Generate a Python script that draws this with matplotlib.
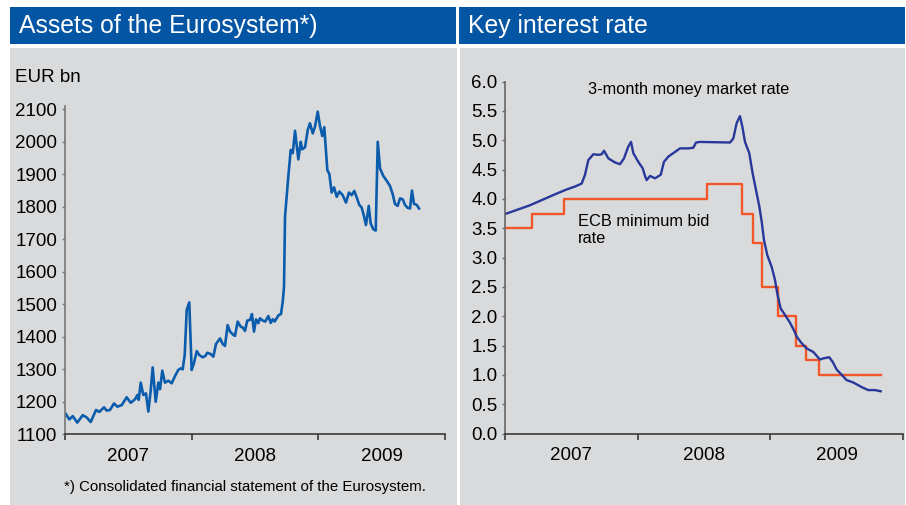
import matplotlib
matplotlib.use("Agg")
import matplotlib.pyplot as plt
from matplotlib.patches import Rectangle

plt.rcParams['font.family'] = ['Liberation Sans', 'DejaVu Sans']

# ---------------- data ----------------
# Assets of the Eurosystem (EUR bn), x as decimal years
assets_t = [2007.008, 2007.034, 2007.061, 2007.097, 2007.140, 2007.171, 2007.203, 2007.245,
            2007.271, 2007.308, 2007.329, 2007.355, 2007.387, 2007.413, 2007.448, 2007.487,
            2007.519, 2007.553, 2007.571, 2007.582, 2007.598, 2007.618, 2007.639, 2007.658,
            2007.677, 2007.692, 2007.716, 2007.737, 2007.750, 2007.768, 2007.789, 2007.816,
            2007.842, 2007.868, 2007.894, 2007.913, 2007.929, 2007.945, 2007.961, 2007.981,
            2008.000, 2008.018, 2008.040, 2008.060, 2008.087, 2008.108, 2008.123, 2008.150,
            2008.171, 2008.192, 2008.224, 2008.245, 2008.263, 2008.284, 2008.303, 2008.329,
            2008.342, 2008.363, 2008.387, 2008.403, 2008.421, 2008.439, 2008.461, 2008.476,
            2008.492, 2008.508, 2008.526, 2008.539, 2008.561, 2008.581, 2008.605, 2008.624,
            2008.640, 2008.655, 2008.671, 2008.687, 2008.705, 2008.719, 2008.729, 2008.737,
            2008.763, 2008.782, 2008.798, 2008.816, 2008.842, 2008.861, 2008.873, 2008.895,
            2008.916, 2008.934, 2008.956, 2008.974, 2008.995, 2009.013, 2009.031, 2009.047,
            2009.071, 2009.087, 2009.105, 2009.124, 2009.145, 2009.166, 2009.192, 2009.218,
            2009.242, 2009.263, 2009.284, 2009.303, 2009.323, 2009.342, 2009.360, 2009.376,
            2009.398, 2009.413, 2009.434, 2009.453, 2009.469, 2009.487, 2009.513, 2009.540,
            2009.566, 2009.587, 2009.605, 2009.626, 2009.645, 2009.666, 2009.684, 2009.705,
            2009.724, 2009.739, 2009.755, 2009.777, 2009.795]
assets_v = [1161, 1145, 1155, 1135, 1158, 1151, 1137, 1174,
            1168, 1182, 1172, 1174, 1194, 1184, 1189, 1213,
            1196, 1207, 1220, 1205, 1258, 1220, 1225, 1169,
            1235, 1305, 1199, 1258, 1238, 1295, 1258, 1264,
            1256, 1278, 1297, 1302, 1299, 1343, 1482, 1505,
            1297, 1318, 1355, 1343, 1336, 1340, 1350, 1346,
            1338, 1377, 1394, 1377, 1371, 1435, 1415, 1405,
            1402, 1446, 1430, 1428, 1417, 1449, 1451, 1469,
            1415, 1453, 1441, 1456, 1449, 1446, 1463, 1442,
            1453, 1446, 1456, 1466, 1469, 1507, 1553, 1769,
            1892, 1974, 1964, 2033, 1945, 1999, 1976, 1982,
            2035, 2056, 2025, 2046, 2092, 2048, 2017, 2044,
            1912, 1900, 1843, 1859, 1830, 1846, 1835, 1812,
            1843, 1835, 1848, 1828, 1805, 1797, 1771, 1743,
            1802, 1748, 1730, 1726, 1999, 1917, 1894, 1879,
            1863, 1838, 1808, 1802, 1825, 1822, 1805, 1796,
            1794, 1849, 1808, 1805, 1794]

# 3-month money market rate (%)
mm_t = [2007.000, 2007.088, 2007.188, 2007.289, 2007.390, 2007.465, 2007.528, 2007.578,
        2007.603, 2007.628, 2007.666, 2007.703, 2007.729, 2007.746, 2007.779, 2007.829,
        2007.867, 2007.897, 2007.929, 2007.950, 2007.967, 2008.005, 2008.038, 2008.055,
        2008.068, 2008.093, 2008.131, 2008.174, 2008.198, 2008.231, 2008.269, 2008.319,
        2008.382, 2008.419, 2008.440, 2008.470, 2008.696, 2008.721, 2008.746, 2008.771,
        2008.789, 2008.809, 2008.841, 2008.867, 2008.892, 2008.917, 2008.935, 2008.952,
        2008.977, 2009.010, 2009.035, 2009.052, 2009.078, 2009.111, 2009.148, 2009.178,
        2009.199, 2009.236, 2009.274, 2009.324, 2009.374, 2009.399, 2009.444, 2009.470,
        2009.500, 2009.538, 2009.575, 2009.625, 2009.689, 2009.738, 2009.789, 2009.832]
mm_v = [3.74, 3.81, 3.89, 3.99, 4.09, 4.16, 4.21, 4.26,
        4.41, 4.66, 4.76, 4.75, 4.76, 4.82, 4.69, 4.62,
        4.59, 4.69, 4.89, 4.97, 4.78, 4.63, 4.52, 4.39,
        4.32, 4.39, 4.35, 4.41, 4.63, 4.72, 4.78, 4.86,
        4.86, 4.87, 4.96, 4.97, 4.96, 5.03, 5.29, 5.41,
        5.23, 4.97, 4.78, 4.43, 4.15, 3.87, 3.61, 3.30,
        3.04, 2.84, 2.62, 2.39, 2.13, 2.02, 1.89, 1.76,
        1.65, 1.54, 1.45, 1.39, 1.26, 1.28, 1.30, 1.22,
        1.09, 1.00, 0.91, 0.87, 0.79, 0.74, 0.74, 0.72]

# ECB minimum bid rate (%), step changes
ecb_t = [2007.000, 2007.200, 2007.445, 2008.523, 2008.786, 2008.869, 2008.937,
         2009.058, 2009.193, 2009.269, 2009.367, 2009.834]
ecb_v = [3.50, 3.75, 4.00, 4.25, 3.75, 3.25, 2.50, 2.00, 1.50, 1.25, 1.00, 1.00]

years = [2007, 2008, 2009]
year_labels = ['2007', '2008', '2009']
assets_yticks = [1100, 1200, 1300, 1400, 1500, 1600, 1700, 1800, 1900, 2000, 2100]
rate_yticks = [0.0, 0.5, 1.0, 1.5, 2.0, 2.5, 3.0, 3.5, 4.0, 4.5, 5.0, 5.5, 6.0]

# ---------------- layout ----------------
W, H = 906, 505
fig = plt.figure(figsize=(W / 100, H / 100), dpi=100)
fig.patch.set_facecolor('white')

TITLE_BLUE = '#0455A4'
PANEL_GRAY = '#D9DADC'

def px_rect(x0, y0, x1, y1, color):
    fig.patches.append(Rectangle((x0 / W, 1 - y1 / H), (x1 - x0) / W, (y1 - y0) / H,
                                 transform=fig.transFigure, facecolor=color,
                                 edgecolor='none', zorder=-5))

px_rect(10, 7, 456, 44, TITLE_BLUE)
px_rect(459, 7, 905, 44, TITLE_BLUE)
px_rect(10, 48, 457, 505, PANEL_GRAY)
px_rect(460, 48, 905, 505, PANEL_GRAY)

fig.text(19 / W, 1 - 26 / H, 'Assets of the Eurosystem*)', color='white',
         fontsize=17.8, va='center', ha='left')
fig.text(468 / W, 1 - 26 / H, 'Key interest rate', color='white',
         fontsize=17.8, va='center', ha='left')

def style_axes(ax, left_color):
    ax.set_facecolor('none')
    ax.set_zorder(2)
    for s in ['top', 'right']:
        ax.spines[s].set_visible(False)
    ax.spines['left'].set_color(left_color)
    ax.spines['left'].set_linewidth(1.2)
    ax.spines['bottom'].set_color('#3a3a3a')
    ax.spines['bottom'].set_linewidth(1.2)
    ax.set_xlim(2007, 2010)
    ax.set_xticks([2007, 2008, 2009, 2010])
    ax.set_xticklabels([])
    ax.set_xticks([y + 0.5 for y in years], minor=True)
    ax.set_xticklabels(year_labels, minor=True)
    ax.tick_params(axis='x', which='major', length=4, width=1.2, color='#3a3a3a', direction='out')
    ax.tick_params(axis='x', which='minor', length=0, labelsize=13.5, pad=10)
    ax.tick_params(axis='y', length=2.5, width=1, color=left_color, labelsize=13.5, pad=3)

# Left: assets
ax1 = fig.add_axes([65 / W, 1 - 434 / H, 380 / W, (434 - 109) / H])
style_axes(ax1, '#777777')
ax1.plot(assets_t, assets_v, color='#0B5CAD', lw=1.9, solid_joinstyle='round')
ax1.set_ylim(1100, 2100)
ax1.set_yticks(assets_yticks)
ax1.set_yticklabels([str(v) for v in assets_yticks])
ax1.spines['left'].set_bounds(1100, 2110)
fig.text(15 / W, 1 - 77 / H, 'EUR bn', fontsize=13.5, va='center', ha='left')
fig.text(244.5 / W, 1 - 487 / H, '*) Consolidated financial statement of the Eurosystem.',
         fontsize=10.8, va='center', ha='center')

# Right: interest rates
ax2 = fig.add_axes([505 / W, 1 - 433.5 / H, 398 / W, 352 / H])
style_axes(ax2, '#666666')
ax2.step(ecb_t, ecb_v, where='post', color='#F2572A', lw=1.7)
ax2.plot(mm_t, mm_v, color='#27389A', lw=1.7)
ax2.set_ylim(0, 6.0)
ax2.set_yticks(rate_yticks)
ax2.set_yticklabels([f'{v:.1f}' for v in rate_yticks])
ax2.text(588 / W, 1 - 90 / H, '3-month money market rate', transform=fig.transFigure,
         fontsize=11.8, va='center', ha='left')
ax2.text(578 / W, 1 - 230 / H, 'ECB minimum bid\nrate', transform=fig.transFigure,
         fontsize=11.8, va='center', ha='left', linespacing=1.2)

fig.savefig('out.png', dpi=100, facecolor='white')
